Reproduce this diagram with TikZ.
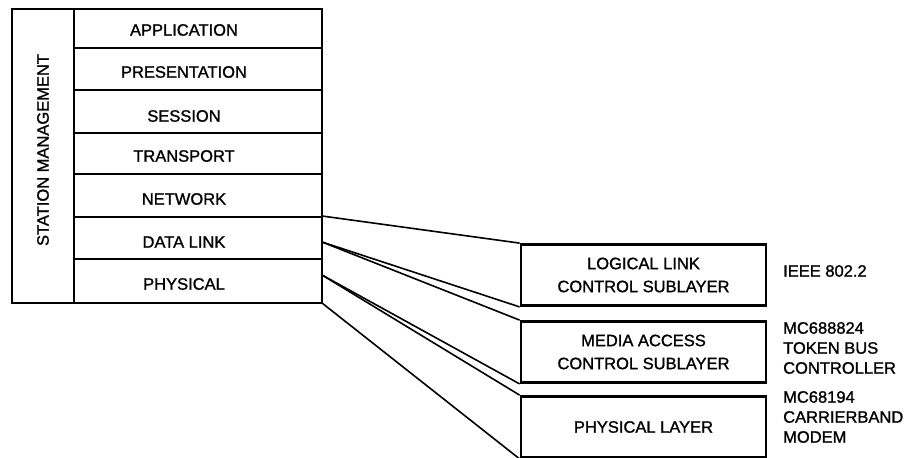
\documentclass[tikz,border=0pt]{standalone}
\usepackage{fontspec}
\setmainfont[AutoFakeBold=1.2]{Liberation Sans}
\newcommand{\fonteCamada}{\fontsize{16.5}{23}\selectfont\bfseries}
\newcommand{\fonteNota}{\fontsize{16.5}{20}\selectfont\bfseries}

\begin{document}
\begin{tikzpicture}[x=1pt, y=-1pt,
    borda/.style={line width=2.8pt},
    fio/.style={line width=1.6pt},
    camada/.style={font=\fonteCamada, inner sep=0pt},
    subcamada/.style={draw, borda, font=\fonteCamada, align=center, minimum width=245pt, minimum height=61pt, inner sep=0pt},
    nota/.style={font=\fonteNota, align=left, anchor=west, inner sep=0pt}]
        \useasboundingbox (0,0) rectangle (908,458);
        % Pilha OSI
        \draw[borda] (12,9) rectangle (322,303);
        \draw[borda] (74,9) -- (74,303);
        \draw[fio] (74,48) -- (322,48);
        \draw[fio] (74,90) -- (322,90);
        \draw[fio] (74,133) -- (322,133);
        \draw[fio] (74,174) -- (322,174);
        \draw[fio] (74,217) -- (322,217);
        \draw[fio] (74,259) -- (322,259);
        % Gestao da estacao (vertical)
        \node[camada, rotate=90] (gestao) at (43,150) {STATION MANAGEMENT};
        % Camadas
        \node[camada] (aplicacao) at (184,30) {APPLICATION};
        \node[camada] (apresentacao) at (184,72) {PRESENTATION};
        \node[camada] (sessao) at (184,116) {SESSION};
        \node[camada] (transporte) at (184,156) {TRANSPORT};
        \node[camada] (rede) at (184,199) {NETWORK};
        \node[camada] (enlace) at (184,242) {DATA LINK};
        \node[camada] (fisica) at (184,284) {PHYSICAL};
        % Subcamadas
        \node[subcamada] (llc) at (643.5,275) {LOGICAL LINK\\CONTROL SUBLAYER};
        \node[subcamada] (mac) at (643.5,352) {MEDIA ACCESS\\CONTROL SUBLAYER};
        \node[subcamada] (phy) at (643.5,427) {PHYSICAL LAYER};
        % Notas
        \node[nota] (ieee) at (783,271) {IEEE 802.2};
        \node[nota] (token) at (783,348) {MC688824\\TOKEN BUS\\CONTROLLER};
        \node[nota] (modem) at (783,417) {MC68194\\CARRIERBAND\\MODEM};
        % Pontos na borda da pilha
        \coordinate (p1) at (322,216);
        \coordinate (p2) at (322,242);
        \coordinate (p3) at (322,275);
        \coordinate (p4) at (322,303);
        % Linhas de expansao
        \draw[fio] (p1) -- (llc.north west);
        \draw[fio] (p2) -- (llc.south west);
        \draw[fio] (p2) -- (mac.north west);
        \draw[fio] (p3) -- (mac.south west);
        \draw[fio] (p3) -- (phy.north west);
        \draw[fio] (p4) -- (phy.south west);
\end{tikzpicture}
\end{document}
